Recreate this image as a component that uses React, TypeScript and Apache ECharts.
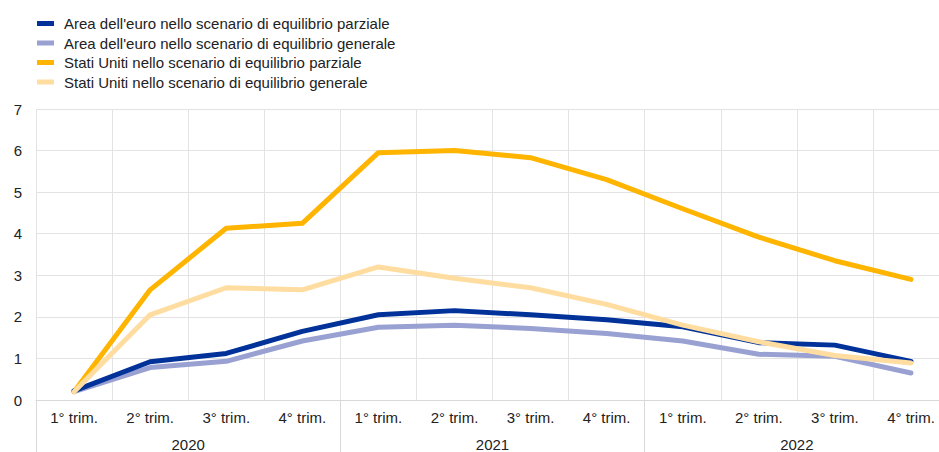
import React, { useEffect, useRef } from "react";
import * as echarts from "echarts";

const quarters = ["1° trim.", "2° trim.", "3° trim.", "4° trim.", "1° trim.", "2° trim.", "3° trim.", "4° trim.", "1° trim.", "2° trim.", "3° trim.", "4° trim."];
const years = ["2020", "2021", "2022"];
const seriesNames = [
  "Area dell'euro nello scenario di equilibrio parziale",
  "Area dell'euro nello scenario di equilibrio generale",
  "Stati Uniti nello scenario di equilibrio parziale",
  "Stati Uniti nello scenario di equilibrio generale",
];
const euroPartial = [0.22, 0.92, 1.12, 1.65, 2.05, 2.15, 2.05, 1.93, 1.76, 1.38, 1.32, 0.93];
const euroGeneral = [0.2, 0.78, 0.93, 1.42, 1.75, 1.8, 1.72, 1.6, 1.42, 1.1, 1.05, 0.65];
const usPartial = [0.2, 2.65, 4.13, 4.25, 5.95, 6.0, 5.83, 5.3, 4.6, 3.92, 3.35, 2.9];
const usGeneral = [0.2, 2.05, 2.7, 2.65, 3.2, 2.93, 2.7, 2.3, 1.8, 1.4, 1.07, 0.89];
const colors = ["#003299", "#98A1D1", "#FFB400", "#FFDDA0"];

export default function App() {
  const ref = useRef<HTMLDivElement>(null);
  useEffect(() => {
    if (!ref.current) return;
    const chart = echarts.init(ref.current, undefined, { renderer: "svg" });
    const font = "'Liberation Sans', Arial, sans-serif";
    const data = [euroPartial, euroGeneral, usPartial, usGeneral];
    chart.setOption({
      animation: false,
      textStyle: { fontFamily: font },
      color: colors,
      legend: {
        orient: "vertical",
        left: 32,
        top: 11,
        itemWidth: 17,
        itemHeight: 5,
        itemGap: 4.5,
        icon: "rect",
        textStyle: { fontSize: 15, color: "#222", fontFamily: font, padding: [0, 0, 0, 5] },
        data: seriesNames,
      },
      grid: { left: 36, width: 913, top: 109, bottom: 52, containLabel: false },
      xAxis: [
        {
          type: "category",
          data: quarters,
          boundaryGap: true,
          position: "bottom",
          axisLine: { show: true, lineStyle: { color: "#d9d9d9", width: 1 } },
          axisTick: { show: false },
          axisLabel: { fontSize: 15, color: "#222", margin: 10, fontFamily: font },
          splitLine: { show: true, lineStyle: { color: "#e3e3e3", width: 1 } },
        },
        {
          type: "category",
          data: years,
          boundaryGap: true,
          position: "bottom",
          axisLine: { show: false },
          axisTick: { show: true, length: 54, lineStyle: { color: "#d9d9d9", width: 1 } },
          axisLabel: { fontSize: 15, color: "#222", margin: 37, fontFamily: font },
          splitLine: { show: false },
        },
      ],
      yAxis: {
        type: "value",
        min: 0,
        max: 7,
        interval: 1,
        axisLine: { show: false },
        axisTick: { show: false },
        axisLabel: { fontSize: 15, color: "#222", margin: 14, fontFamily: font },
        splitLine: { show: true, lineStyle: { color: "#e3e3e3", width: 1 } },
      },
      series: seriesNames.map((name, i) => ({
        name,
        type: "line",
        data: data[i],
        xAxisIndex: 0,
        symbol: "none",
        lineStyle: { width: 5, color: colors[i], cap: "round", join: "round" },
        itemStyle: { color: colors[i] },
        z: [4, 3, 2, 5][i],
      })),
    });
    return () => chart.dispose();
  }, []);
  return (
    <div style={{ width: 939, height: 452, position: "absolute", left: 0, top: 0, overflow: "hidden" }}>
      <div ref={ref} style={{ width: 950, height: 452, position: "absolute", left: 0, top: 0 }} />
    </div>
  );
}
